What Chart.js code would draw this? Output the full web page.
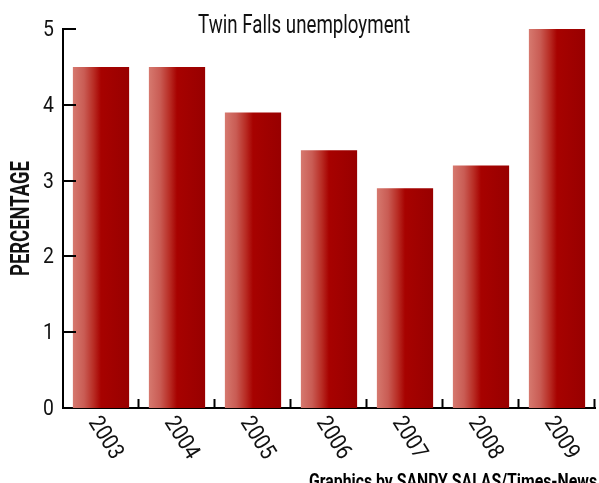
<!DOCTYPE html>
<html>

<head>
    <script src="https://cdn.jsdelivr.net/npm/chart.js@4/dist/chart.umd.min.js"></script>
    <style>
        html, body { margin: 0; padding: 0; background: #fff; }
        #wrap { width: 599px; height: 483px; }
    </style>
</head>

<body>
    <div id="wrap">
        <canvas id="myChart" width="599" height="483"></canvas>
    </div>
</body>

<script>

    // chart values
    const years = ['2003', '2004', '2005', '2006', '2007', '2008', '2009']
    const unemployment = [4.5, 4.5, 3.9, 3.4, 2.9, 3.2, 5.0]
    const yTicks = [0, 1, 2, 3, 4, 5]

    const titleText = 'Twin Falls unemployment'
    const yTitle = 'PERCENTAGE'
    const creditText = 'Graphics by SANDY SALAS/Times-News'

    const FONT = "Roboto, 'Liberation Sans', sans-serif"

    // gradient for each bar, light on the left, dark red on the right
    const barFill = (ctx) => {
        const chart = ctx.chart
        if (!chart.chartArea || ctx.type !== 'data') return '#a80000'
        const xs = chart.scales.x
        const cx = xs.getPixelForValue(ctx.dataIndex)
        const w = (xs.width / years.length) * 0.74
        const g = chart.ctx.createLinearGradient(cx - w / 2, 0, cx + w / 2, 0)
        g.addColorStop(0, '#d6796f')
        g.addColorStop(0.2, '#c95c54')
        g.addColorStop(0.37, '#b82c24')
        g.addColorStop(0.5, '#a70200')
        g.addColorStop(1, '#980000')
        return g
    }

    // the original type is a condensed face, so squeeze text horizontally
    // either by a fixed factor or to fit a given width
    const squeezeText = (c, text, x, y, opts) => {
        c.save()
        c.font = opts.font
        c.textAlign = opts.align || 'left'
        c.textBaseline = opts.baseline || 'alphabetic'
        let sx = opts.sx || 1
        if (opts.fit) sx = opts.fit / c.measureText(text).width
        c.translate(x, y)
        if (opts.rotate) c.rotate(opts.rotate)
        c.scale(sx, 1)
        c.fillText(text, 0, 0)
        c.restore()
    }

    // inward tick marks and all the text
    const decor = {
        id: 'decor',
        afterDraw(chart) {
            const c = chart.ctx
            const area = chart.chartArea
            const xs = chart.scales.x
            const ys = chart.scales.y
            c.save()
            c.strokeStyle = '#000'
            c.fillStyle = '#111'
            c.lineWidth = 2
            yTicks.forEach((v) => {
                const y = Math.round(ys.getPixelForValue(v))
                squeezeText(c, String(v), area.left - 9, y + 1, {
                    font: '22px ' + FONT, align: 'right', baseline: 'middle', sx: 0.88
                })
                if (v === 0) return
                c.beginPath()
                c.moveTo(area.left, y)
                c.lineTo(area.left + 13, y)
                c.stroke()
            })
            const step = xs.width / years.length
            for (let i = 1; i <= years.length; i++) {
                const x = Math.round(area.left + step * i) - 0.5
                c.beginPath()
                c.moveTo(x, area.bottom)
                c.lineTo(x, area.bottom - 9)
                c.stroke()
            }

            years.forEach((label, i) => {
                const x = xs.getPixelForValue(i)
                squeezeText(c, label, x - 8, area.bottom + 11, {
                    font: '23px ' + FONT, baseline: 'middle', sx: 0.88,
                    rotate: 58 * Math.PI / 180
                })
            })

            squeezeText(c, titleText, 304, 33, {
                font: '25px ' + FONT, align: 'center', fit: 212
            })

            squeezeText(c, yTitle, 22, (area.top + area.bottom) / 2, {
                font: 'bold 26px ' + FONT, align: 'center', baseline: 'middle',
                fit: 115, rotate: -Math.PI / 2
            })

            c.fillStyle = '#000'
            squeezeText(c, creditText, 597, 488, {
                font: 'bold 21px ' + FONT, align: 'right', fit: 288
            })
            c.restore()
        }
    }

    const data = {
        labels: years,
        datasets: [{
            label: 'Unemployment',
            data: unemployment,
            backgroundColor: barFill,
            borderWidth: 0,
            barPercentage: 0.74,
            categoryPercentage: 1
        }]
    }

    const config = {
        type: 'bar',
        data: data,
        plugins: [decor],
        options: {
            responsive: false,
            animation: false,
            layout: { padding: { top: 29, right: 4, left: 0, bottom: 0 } },
            plugins: {
                legend: { display: false },
                title: { display: false },
                tooltip: { enabled: false }
            },
            scales: {
                x: {
                    grid: { display: false, drawTicks: false },
                    border: { display: true, color: '#000', width: 2 },
                    ticks: { display: false },
                    afterFit: (scale) => { scale.height = 75 }
                },
                y: {
                    min: 0,
                    max: 5,
                    afterBuildTicks: (scale) => {
                        scale.ticks = yTicks.map((v) => ({ value: v }))
                    },
                    grid: { display: false, drawTicks: false },
                    border: { display: true, color: '#000', width: 2 },
                    ticks: { display: false },
                    afterFit: (scale) => { scale.width = 63 }
                }
            }
        }
    }

    const myChart = new Chart(document.getElementById('myChart'), config)

</script>

</html>
